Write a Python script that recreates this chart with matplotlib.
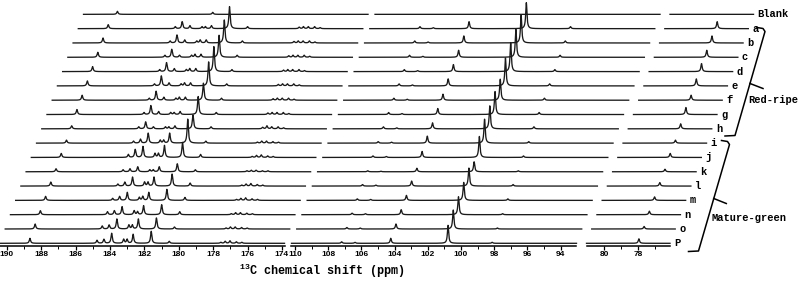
import numpy as np
import matplotlib
matplotlib.use("Agg")
import matplotlib.pyplot as plt
from matplotlib.transforms import ScaledTranslation
from matplotlib.ticker import FixedLocator

plt.rcParams['mathtext.fontset'] = 'custom'
plt.rcParams['mathtext.rm'] = 'Liberation Mono:bold'
plt.rcParams['mathtext.bf'] = 'Liberation Mono:bold'

# samples, top -> bottom
samples = ["Blank", "a", "b", "c", "d", "e", "f", "g", "h",
           "i", "j", "k", "l", "m", "n", "o", "P"]

# ---- panel 1 (190-174 ppm) peak positions and heights per sample ----
p1_ppm = [188.65, 184.75, 184.35, 183.9, 183.2, 183.0, 182.65, 181.6,
          180.55, 177.55, 177.3, 177.02, 176.65, 176.33]
A_h  = [0, 4, 5, 5, 5, 5, 5, 5, 3, 3, 4, 3, 4, 4, 4, 5, 5]
B1_h = [0, 2, 2, 2, 2, 2, 2, 2, 2, 2, 3, 2, 2, 2, 3, 3, 3]
B2_h = [0, 7, 8, 8, 9, 10, 9, 9, 7, 4, 8, 3, 4, 4, 4, 4, 4]
C_h  = [0, 3, 3, 2, 3, 3, 3, 3, 2, 10, 11, 5, 9, 8, 8, 10, 10]
D1_h = [0, 2, 2, 2, 2, 2, 2, 2, 2, 3, 4, 2, 4, 3, 4, 4, 4]
D2_h = [0, 2, 3, 3, 3, 3, 3, 2, 2, 3, 4, 2, 4, 4, 3, 4, 4]
E_h  = [0, 3, 3, 3, 3, 3, 3, 3, 3, 10, 12, 5, 9, 8, 9, 10, 9]
F_h  = [0, 22, 23, 22, 25, 24, 17, 18, 14, 24, 15, 8, 12, 11, 10, 11, 12]
G_h  = [0, 2, 2, 2, 2, 2, 2, 2, 2, 2, 3, 2, 3, 3, 3, 2, 2]
H0_h = [0, 1.5, 1.5, 1.5, 1.5, 1.5, 1.5, 1.5, 1.5, 1, 1, 1, 1, 1, 1, 1, 1]
H1_h = [0, 2, 2, 2, 2, 2, 2, 2, 3, 2, 2, 1.5, 2, 2, 2, 2, 2]
H2_h = [0, 2, 2, 2, 2, 2, 2, 2, 2, 2, 2.5, 1.5, 2.5, 2.5, 2, 2, 2.5]
H3_h = [0, 2, 2, 2, 2, 2, 2, 2, 2, 1.5, 1.5, 1, 1.5, 1.5, 1.5, 1.5, 1.5]
H4_h = [0, 1, 1, 1, 1, 1, 1, 1, 1, 1, 1, 1, 1, 1, 1, 1, 1]
p1_heights = [A_h, B1_h, B2_h, C_h, D1_h, D2_h, E_h, F_h, G_h,
              H0_h, H1_h, H2_h, H3_h, H4_h]
blank_ppm = [188.42, 182.88]
blank_h = [3, 2]

# ---- panel 2 (110-93 ppm) ----
p2_ppm = [107.19, 106.39, 104.23, 100.78, 98.12]
Q1_h = [0, 2, 2, 2, 2, 2, 2, 2, 2, 1.5, 1.5, 1, 1.5, 1.5, 1.5, 1.5, 1.5]
Q2_h = [0, 1, 1, 1, 1, 1, 1, 1, 1, 1, 1, 0.5, 1, 1, 1, 1, 1]
Q3_h = [0, 7, 7, 7, 7, 7, 6, 6, 6, 7, 6, 3.5, 5, 5, 5, 5, 5]
Q4_h = [0, 26, 28, 28, 29, 28, 21, 23, 23, 24, 21, 10, 18, 18, 18, 19, 18]
Q5_h = [0, 2, 2, 2, 2, 2, 2, 2, 2, 1.5, 1.5, 1, 1.5, 1.5, 1, 1, 1]
p2_heights = [Q1_h, Q2_h, Q3_h, Q4_h, Q5_h]

# ---- panel 3 (81-76 ppm) ----
p3_ppm = [77.95]
R_h = [0, 7, 7, 7, 8, 7, 5, 7, 5, 3, 4, 2.5, 3.5, 3.5, 3.5, 2.5, 4.5]
p3_heights = [R_h]

panel_ranges = [(190.39, 173.85), (110.21, 93.04), (81.03, 76.12)]
major_ticks = [list(range(190, 173, -2)), list(range(110, 93, -2)), [80, 78]]
minor_ticks = [list(range(189, 174, -2)), list(range(109, 93, -2)), [79, 77]]

group_labels = ["Red-ripe", "Mature-green"]

# ---------------------------------------------------------------
W, H, DPI = 800, 285, 100
fig = plt.figure(figsize=(W / DPI, H / DPI), dpi=DPI)

panel_px = [(0.0, 284.5), (291.5, 576.5), (586.5, 670.0)]
axis_y = 245.5      # px from top
base_y = 243.3      # baseline of lowest trace
dx_step, dy_step = 5.22, 14.31
hw = 0.045          # half width (ppm)

n = len(samples)
axes = []
for k, ((x0, x1), (lo_hi)) in enumerate(zip(panel_px, panel_ranges)):
    ax = fig.add_axes([x0 / W, (H - axis_y) / H, (x1 - x0) / W, axis_y / H])
    ax.set_xlim(lo_hi[0], lo_hi[1])
    ax.set_ylim(-(axis_y - base_y), base_y)
    ax.patch.set_alpha(0)
    for s in ["top", "left", "right"]:
        ax.spines[s].set_visible(False)
    ax.spines["bottom"].set_linewidth(1.1)
    ax.set_yticks([])
    ax.xaxis.set_major_locator(FixedLocator(major_ticks[k]))
    ax.xaxis.set_minor_locator(FixedLocator(minor_ticks[k]))
    ax.tick_params(axis="x", which="major", length=3, width=0.9, pad=1,
                   direction="out")
    ax.tick_params(axis="x", which="minor", length=2, width=0.7)
    for lab in ax.get_xticklabels():
        lab.set_fontfamily("Liberation Sans")
        lab.set_fontweight("bold")
        lab.set_fontsize(6.0)
    axes.append(ax)

panels = [(p1_ppm, p1_heights), (p2_ppm, p2_heights), (p3_ppm, p3_heights)]

for j, name in enumerate(samples):
    i = n - 1 - j      # stacking index from bottom
    off = ScaledTranslation(i * dx_step / DPI, i * dy_step / DPI,
                            fig.dpi_scale_trans)
    for k, (ax, (ppms, hts)) in enumerate(zip(axes, panels)):
        lo, hi = panel_ranges[k]
        x = np.linspace(lo, hi, 4000)
        y = np.zeros_like(x)
        for pp, hh in zip(ppms, hts):
            y += hh[j] / (1 + ((x - pp) / hw) ** 2)
        if name == "Blank" and k == 0:
            for pp, hh in zip(blank_ppm, blank_h):
                y += hh / (1 + ((x - pp) / hw) ** 2)
        ax.plot(x, y, color="#1a1a1a", lw=0.95, clip_on=False,
                transform=ax.transData + off, solid_joinstyle="round")
    # sample label
    ax3 = axes[2]
    lab_off = ScaledTranslation((i * dx_step + 4) / DPI, i * dy_step / DPI,
                                fig.dpi_scale_trans)
    ax3.text(panel_ranges[2][1], 0, name, transform=ax3.transData + lab_off,
             ha="left", va="center", fontfamily="Liberation Mono",
             fontweight="bold", fontsize=7.5, clip_on=False)

# overlay for brackets (pixel coords)
ov = fig.add_axes([0, 0, 1, 1])
ov.set_xlim(0, W)
ov.set_ylim(H, 0)
ov.axis("off")
ov.patch.set_alpha(0)

def bracket(top, bot, mid_y, tip):
    (xt, yt), (xb, yb) = top, bot
    xs = [xt - 8, xt - 2, xt, xb, xb - 10]
    ys = [yt - 2, yt - 1, yt + 2, yb, yb + 0.5]
    ov.plot(xs, ys, color="black", lw=1.1, solid_joinstyle="round")
    # middle tick
    t = (mid_y - (yt + 2)) / (yb - (yt + 2))
    xm = xt + t * (xb - xt)
    ov.plot([xm, xm + tip[0]], [mid_y, mid_y + tip[1]], color="black", lw=1.1)

bracket((765, 29.5), (735, 135.5), 83.5, (13, 5))
bracket((729.5, 142.5), (698.5, 251.0), 198.5, (12.5, 5))
ov.text(748, 100, group_labels[0], ha="left", va="center",
        fontfamily="Liberation Mono", fontweight="bold", fontsize=7.5)
ov.text(711.5, 218, group_labels[1], ha="left", va="center",
        fontfamily="Liberation Mono", fontweight="bold", fontsize=7.5)

fig.text(322 / W, 1 - 271 / H, r"$^{13}$C chemical shift (ppm)",
         ha="center", va="center", fontfamily="Liberation Mono",
         fontweight="bold", fontsize=8.5)

fig.savefig("out.png", dpi=DPI)
